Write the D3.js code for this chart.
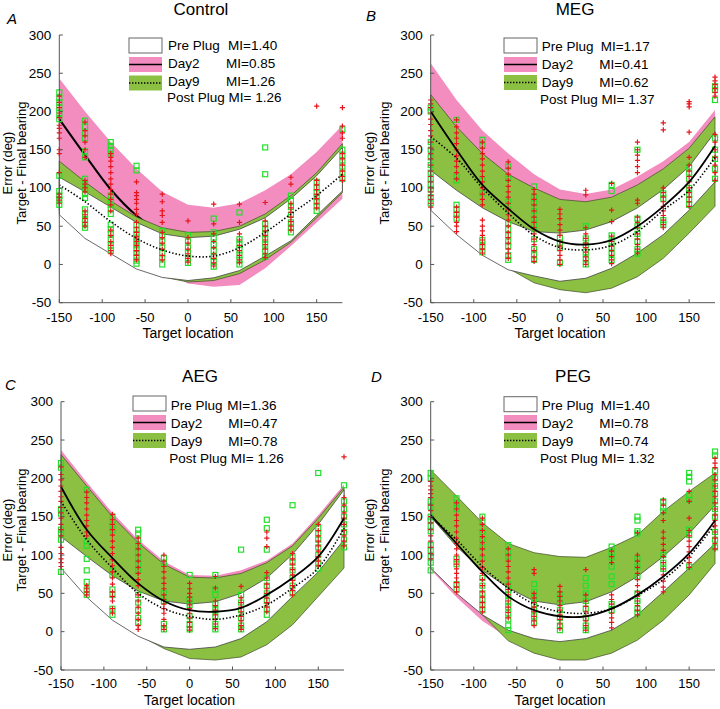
<!DOCTYPE html>
<html><head><meta charset="utf-8">
<script src="https://cdn.jsdelivr.net/npm/d3@7"></script>
<style>
body{margin:0;background:#fff}
svg{display:block}
text{font-family:"Liberation Sans",Arial,Helvetica,sans-serif;fill:#000}
</style>
</head><body>
<svg id="c" width="720" height="709"></svg>
<script>
// ---------- shared ----------
const targets = [-150,-120,-90,-60,-30,0,30,60,90,120,150,180];
const xTicks = [-150,-100,-50,0,50,100,150];
const yTicks = [-50,0,50,100,150,200,250,300];
const legendNames = ["Pre Plug","Day2","Day9"];

// ---------- Control ----------
const ctrlMI = [1.40, 0.85, 1.26, 1.26];
const ctrlPinkHi = [243,200,160,125,95,78,74,80,97,118,147,182];
const ctrlPinkLo = [100,70,40,15,-5,-25,-29,-27,-5,24,55,86];
const ctrlGreenHi = [135,108,83,62,48,42,43,50,66,90,120,158];
const ctrlGreenLo = [70,40,18,-3,-16,-23,-21,-12,6,29,61,94];
const ctrlWhiteHi = [114,95,75,55,40,35,37,46,61,86,116,153];
const ctrlWhiteLo = [65,34,14,-6,-17,-21,-17.5,-8,11,31,64,96];
const ctrlSolid = [190,143,98,64,42,30,28,35,55,80,110,148];
const ctrlDotted = [104,82,56,34,19,11,11,22,42,66,90,118];
const ctrlRed = [
 [220,212,205,198,192,182,178,172,165,150,145,120,92,88,84,80],
 [186,175,168,160,150,140,110,105,100,95,70,65,60,55,50],
 [145,140,135,128,120,112,105,98,92,85,78,70,45,38,30,25,18,14],
 [108,94,90,85,80,72,66,55,48,42,36,30,25,18,12,6],
 [92,82,70,64,55,42,35,28,20,12,6],
 [57,35,28,20,14,8,3],
 [79,53,40,30,22,14,8,2,-2],
 [79,55,40,32,25,18,12,6,2],
 [81,57,50,44,38,32,26,20,14,9],
 [114,105,80,74,68,62,56,50,45],
 [207,110,104,98,92,86,80,74],
 [205,181,172,165,145,138,130,122,115,110]];
const ctrlGreenPts = [
 [225,218,212,205,198,190,116,96,90,85,78],
 [188,180,172,165,148,140,112,105,98,92,87,72,66,58,52,48],
 [160,155,150,145,90,84,78,72,66,52,46,40,32,25,18],
 [129,123,52,45,40,35,30,25,20,15,10,5,1],
 [44,38,30,22,15,8,0],
 [38,30,22,15,8,2],
 [60,42,35,26,18,10,4,-3],
 [68,33,26,19,12,6,0],
 [153,118,53,46,40,33,26,18,10],
 [90,83,75,65,55,48,42],
 [108,100,94,88,82,76,70],
 [177,150,143,136,128,120,112]];

// ---------- MEG ----------
const megMI = [1.17, 0.41, 0.62, 1.37];
const megPinkHi = [263,215,175,145,118,98,92,98,115,135,160,202];
const megPinkLo = [150,120,90,60,40,30,30,40,60,80,110,150];
const megGreenHi = [222,180,145,118,100,85,82,88,104,125,152,193];
const megGreenLo = [80,45,18,-5,-24,-33,-37,-31,-16,8,41,76];
const megWhiteHi = [123,97,74,56,43,41,45,56,74,98,128,173];
const megWhiteLo = [71,39,12,-7,-15,-22,-18,-5,15,39,71,108];
const megSolid = [200,150,104,73,46,30,26,32,50,76,108,155];
const megDotted = [167,139,100,67,38,22,19,25,43,71,97,140];
const megRed = [
 [215,210,205,198,190,183,175,168,160,152,145,138,130,122,115,108,100,95,90,85,80,75],
 [189,180,172,165,158,150,142,135,128,120,112,75,68,62,55,50,43],
 [160,152,145,138,130,122,115,108,100,92,85,78,58,50,44,38,32,26,20,15],
 [134,126,118,110,102,95,88,80,72,65,58,50,42,35,28,20,14,8],
 [98,92,85,78,70,62,55,48,40,33,26,18,10,4],
 [72,66,60,52,45,38,30,24,18,12,6,0],
 [97,91,48,40,34,28,22,16,10,5,0],
 [106,71,56,37,30,24,18,12,6,1],
 [160,150,143,136,128,120,84,80,62,55,48,40,33,26,20,15],
 [185,176,100,94,88,82,76,70,64,58,52,48],
 [213,210,206,173,140,130,122,115,108,100,94,88,82,76],
 [245,240,235,230,225,220,170,160,150,140,130,120,110]];
const megGreenPts = [
 [205,200,160,150,140,130,120,112,105,98,88,80],
 [189,115,110,78,72,66,60],
 [163,155,110,93,32,24,16],
 [128,112,82,72,54,46,38,30,24,12,6],
 [102,88,80,70,60,52,46,33,20,12,6],
 [35,28,22,2],
 [50,34,25,16,8,0],
 [104,96,38,30,22,14,6],
 [150,60,50,40,30,20,14],
 [93,86,58,52],
 [128,120,112,100,92,85,78],
 [233,228,215,165,150,138,125,112]];

// ---------- AEG ----------
const aegMI = [1.36, 0.47, 0.78, 1.26];
const aegPinkHi = [237,195,155,120,92,74,73,80,93,115,152,192];
const aegPinkLo = [100,60,25,0,-15,-30,-32,-28,-12,14,50,88];
const aegGreenHi = [231,190,150,116,88,71,70,76,90,112,148,188];
const aegGreenLo = [90,50,18,-4,-22,-35,-37,-33,-17,9,46,83];
const aegWhiteHi = [124,98,73,53,40,36,39,50,70,101,140,185];
const aegWhiteLo = [83,45,15,-6,-20,-23,-20,-9,13,46,78,120];
const aegSolid = [189,133,96,63,40,28,26,31,48,70,98,148];
const aegDotted = [170,120,83,50,30,20,16,22,35,57,83,135];
const aegRed = [
 [215,205,198,190,183,176,170,162,155,148,140,133,125,110,102,95,90,85],
 [182,175,168,160,152,145,138,130,125,60,56,52,48],
 [153,146,140,133,126,118,110,102,94,86,78,70,62,52,46,40,30,24],
 [122,115,108,100,92,84,76,68,60,48,40,32,24,16,8,3],
 [100,92,85,78,70,63,56,48,42,36,30,24,16,8,3],
 [63,56,50,45,40,35,30,24,18,12,6,2],
 [72,57,40,34,28,22,16,10,4],
 [59,44,38,32,26,20,14,8,3],
 [130,122,111,77,70,62,56,50,44,38,32,26],
 [102,95,88,81,74,67,60,54,48],
 [140,132,125,118,112,105,98,92,86],
 [228,175,165,155,148,140,132,125,118,112]];
const aegGreenPts = [
 [220,214,160,154,133,128,120,78],
 [185,118,112,95,80,65,55,48],
 [150,140,132,80,74,55,48,30,22],
 [133,128,120,112,104,96,88,80,48,38,28,18,12],
 [96,90,50,40,10,3],
 [74,42,35,20,10,3],
 [74,55,48,36,28,20,10,3],
 [107,48,38,28,18,8,3],
 [146,135,107,70,60,50,40,30,22],
 [165,97,90,80,70,60,50],
 [207,135,128,120,110,100,90,82],
 [191,170,160,150,140,130,120,110]];

// ---------- PEG ----------
const pegMI = [1.40, 0.78, 0.74, 1.32];
const pegPinkHi = [200,165,130,105,92,88,88,100,118,145,172,198];
const pegPinkLo = [81,45,14,-8,-25,-34,-34,-25,-8,18,50,90];
const pegGreenHi = [211,177,142,115,103,98,97,110,126,157,183,207];
const pegGreenLo = [84,52,22,-12,-28,-37,-37,-28,-11,15,48,89];
const pegWhiteHi = [150,111,80,57,40,35,39,52,72,98,128,165];
const pegWhiteLo = [83,50,22,2,-9,-13,-9,2,22,52,83,115];
const pegSolid = [152,115,78,46,28,20,20,30,48,72,102,145];
const pegDotted = [150,120,85,57,36,26,24,30,47,68,98,140];
const pegRed = [
 [196,190,185,180,175,165,158,150,142,133,125,118,110,102,95],
 [168,160,152,145,138,130,122,115,108,100,94,88,82,76,70,64,58,52],
 [148,140,132,124,116,108,100,92,84,76,68,60,52,45,38,32,26],
 [108,100,92,85,78,70,62,55,48,40,32,25,18],
 [81,76,50,44,38,32,26,20,14,8],
 [59,52,46,40,34,28,22,16,10,4],
 [81,48,40,33,26,20,14,8,2],
 [105,98,90,48,42,36,30,24,18,12,5],
 [129,100,92,84,76,68,60,52,46,40,34,28,22],
 [172,165,155,145,130,122,114,106,98,90,82,74,66,58,52],
 [183,170,148,132,125,118,111,104,97,90,84],
 [226,220,214,205,198,190,183,176,168,160,152,145,138,130,122,115,108]];
const pegGreenPts = [
 [207,200,170,163,150,145,138,131,113,106,98,90,80],
 [174,168,160,95,88,62,55],
 [150,142,130,120,110,95,70,60,50,42,35,28],
 [113,105,98,62,55,48,40,32,24,16,8,2],
 [62,52,44,36,28,20,12],
 [48,38,28,18,8,2],
 [70,60,50,40,30,18,8,2],
 [111,104,97,85,72,62,36,28],
 [150,145,131,128,95,85,72,50,40,30,24],
 [170,162,157,100,90,82],
 [207,202,196,178,172,133,126,85],
 [235,230,210,200,190,180,170,160,150,130,120,110]];

// ---------- colours ----------
const PINK = "#f38cbf", GREEN = "#8cc043", RED = "#e8141c", LIME = "#22e02a";

// ---------- layout ----------
const panels = [
 {title:"Control", letter:"A", mi:ctrlMI, pinkHi:ctrlPinkHi, pinkLo:ctrlPinkLo, greenHi:ctrlGreenHi, greenLo:ctrlGreenLo,
  whiteHi:ctrlWhiteHi, whiteLo:ctrlWhiteLo, solid:ctrlSolid, dotted:ctrlDotted, red:ctrlRed, grn:ctrlGreenPts, solidUnder:true,
  x0:59.3, x1:342.4, yT:35, yB:302.7, titleX:201, titleY:15, letX:7, letY:24,
  lbl1X:12, lbl2X:26, lblY:163, xLblY:337.5, tickY:321.5,
  legBox:129, legTxt:168, legMI:[228,226,226], legPost:167, legRows:[38,57,75.5], legBase:[49.5,67.5,85.5,102]},
 {title:"MEG", letter:"B", mi:megMI, pinkHi:megPinkHi, pinkLo:megPinkLo, greenHi:megGreenHi, greenLo:megGreenLo,
  whiteHi:megWhiteHi, whiteLo:megWhiteLo, solid:megSolid, dotted:megDotted, red:megRed, grn:megGreenPts, solidUnder:false,
  x0:430.7, x1:715, yT:35, yB:302.7, titleX:575, titleY:15, letX:366, letY:21,
  lbl1X:374, lbl2X:389, lblY:163, xLblY:337.5, tickY:321.5,
  legBox:504, legTxt:541.7, legMI:[600.7,599.3,599.3], legPost:540, legRows:[38,57,75], legBase:[50.5,68.5,86.5,104]},
 {title:"AEG", letter:"C", mi:aegMI, pinkHi:aegPinkHi, pinkLo:aegPinkLo, greenHi:aegGreenHi, greenLo:aegGreenLo,
  whiteHi:aegWhiteHi, whiteLo:aegWhiteLo, solid:aegSolid, dotted:aegDotted, red:aegRed, grn:aegGreenPts, solidUnder:false,
  x0:61, x1:344, yT:401.7, yB:670, titleX:200, titleY:382, letX:5, letY:390,
  lbl1X:12, lbl2X:26, lblY:530, xLblY:704.5, tickY:688,
  legBox:133, legTxt:170.7, legMI:[227.3,228.3,228.3], legPost:169.3, legRows:[396,415,433], legBase:[409.5,427.5,445.5,463]},
 {title:"PEG", letter:"D", mi:pegMI, pinkHi:pegPinkHi, pinkLo:pegPinkLo, greenHi:pegGreenHi, greenLo:pegGreenLo,
  whiteHi:pegWhiteHi, whiteLo:pegWhiteLo, solid:pegSolid, dotted:pegDotted, red:pegRed, grn:pegGreenPts, solidUnder:false,
  x0:430.7, x1:715, yT:401.7, yB:670, titleX:573, titleY:382, letX:371, letY:382,
  lbl1X:374, lbl2X:389, lblY:530, xLblY:704.5, tickY:688,
  legBox:504, legTxt:541.7, legMI:[600.7,599.3,599.3], legPost:540, legRows:[396.7,415,433], legBase:[409.5,427.5,445.5,463]}
];

const svg = d3.select("#c");

function drawPanel(p) {
  const x = d3.scaleLinear().domain([-150,180]).range([p.x0,p.x1]);
  const y = d3.scaleLinear().domain([-50,300]).range([p.yB,p.yT]);
  const g = svg.append("g");
  const band = (hi, lo) => d3.area().x((d,i)=>x(targets[i])).y0((d,i)=>y(lo[i])).y1((d,i)=>y(hi[i]))(targets);
  const line = (vals) => d3.line().x((d,i)=>x(targets[i])).y(d=>y(d)).curve(d3.curveCatmullRom.alpha(0.5))(vals);

  g.append("path").attr("d", band(p.pinkHi,p.pinkLo)).attr("fill",PINK).attr("stroke","none");
  if (p.solidUnder) g.append("path").attr("d", line(p.solid)).attr("fill","none").attr("stroke","#000").attr("stroke-width",2);
  g.append("path").attr("d", band(p.greenHi,p.greenLo)).attr("fill",GREEN).attr("stroke","#3d4a25").attr("stroke-width",0.7);
  g.append("path").attr("d", band(p.whiteHi,p.whiteLo)).attr("fill","#fff").attr("stroke","#444").attr("stroke-width",0.8);

  // scatter: green squares then red plus
  targets.forEach((t,i) => {
    p.grn[i].forEach(v => {
      g.append("rect").attr("x",x(t)-2.5).attr("y",y(v)-2.5).attr("width",5).attr("height",5)
        .attr("fill","none").attr("stroke",LIME).attr("stroke-width",1.2);
    });
  });
  targets.forEach((t,i) => {
    p.red[i].forEach(v => {
      g.append("path").attr("d",`M${x(t)-2.6},${y(v)}H${x(t)+2.6}M${x(t)},${y(v)-2.6}V${y(v)+2.6}`)
        .attr("stroke",RED).attr("stroke-width",1.2).attr("fill","none");
    });
  });

  if (!p.solidUnder) g.append("path").attr("d", line(p.solid)).attr("fill","none").attr("stroke","#000").attr("stroke-width",1.8);
  g.append("path").attr("d", line(p.dotted)).attr("fill","none").attr("stroke","#000").attr("stroke-width",1.6).attr("stroke-dasharray","1.4,2");

  // axes (MATLAB style, ticks inside)
  const ax = g.append("g").attr("stroke","#555").attr("stroke-width",1);
  ax.append("line").attr("x1",p.x0).attr("x2",p.x0).attr("y1",p.yT).attr("y2",p.yB);
  ax.append("line").attr("x1",p.x0).attr("x2",p.x1).attr("y1",p.yB).attr("y2",p.yB);
  xTicks.forEach(t => ax.append("line").attr("x1",x(t)).attr("x2",x(t)).attr("y1",p.yB).attr("y2",p.yB-3.5));
  yTicks.forEach(t => ax.append("line").attr("x1",p.x0).attr("x2",p.x0+3.5).attr("y1",y(t)).attr("y2",y(t)));
  xTicks.forEach(t => g.append("text").attr("x",x(t)).attr("y",p.tickY).attr("text-anchor","middle").attr("font-size",13).text(t));
  yTicks.forEach(t => g.append("text").attr("x",p.x0-8).attr("y",y(t)+4.5).attr("text-anchor","end").attr("font-size",13.5).text(t));

  g.append("text").attr("x",x(0)).attr("y",p.xLblY).attr("text-anchor","middle").attr("font-size",14).text("Target location");
  g.append("text").attr("transform",`translate(${p.lbl1X},${p.lblY}) rotate(-90)`).attr("text-anchor","middle").attr("font-size",13).text("Error (deg)");
  g.append("text").attr("transform",`translate(${p.lbl2X},${p.lblY}) rotate(-90)`).attr("text-anchor","middle").attr("font-size",13).text("Target - Final bearing");

  g.append("text").attr("x",p.titleX).attr("y",p.titleY).attr("text-anchor","middle").attr("font-size",17).text(p.title);
  g.append("text").attr("x",p.letX).attr("y",p.letY).attr("font-size",15).attr("font-style","italic").text(p.letter);

  // legend
  const lg = g.append("g");
  const bw = 33, bh = 15;
  lg.append("rect").attr("x",p.legBox).attr("y",p.legRows[0]).attr("width",bw).attr("height",bh).attr("fill","#fff").attr("stroke","#666").attr("stroke-width",1);
  lg.append("rect").attr("x",p.legBox).attr("y",p.legRows[1]).attr("width",bw).attr("height",bh).attr("fill",PINK);
  lg.append("line").attr("x1",p.legBox).attr("x2",p.legBox+bw).attr("y1",p.legRows[1]+bh/2).attr("y2",p.legRows[1]+bh/2).attr("stroke","#000").attr("stroke-width",1.6);
  lg.append("rect").attr("x",p.legBox).attr("y",p.legRows[2]).attr("width",bw).attr("height",bh).attr("fill",GREEN);
  lg.append("line").attr("x1",p.legBox).attr("x2",p.legBox+bw).attr("y1",p.legRows[2]+bh/2).attr("y2",p.legRows[2]+bh/2).attr("stroke","#000").attr("stroke-width",1.4).attr("stroke-dasharray","1.4,1.6");
  legendNames.forEach((n,i) => {
    lg.append("text").attr("x",p.legTxt).attr("y",p.legBase[i]).attr("font-size",13.5).text(n);
    lg.append("text").attr("x",p.legMI[i]).attr("y",p.legBase[i]).attr("font-size",13.5).text("MI=" + p.mi[i].toFixed(2));
  });
  lg.append("text").attr("x",p.legPost).attr("y",p.legBase[3]).attr("font-size",13.5).text("Post Plug MI= " + p.mi[3].toFixed(2));
}
panels.forEach(drawPanel);
</script>
</body></html>
